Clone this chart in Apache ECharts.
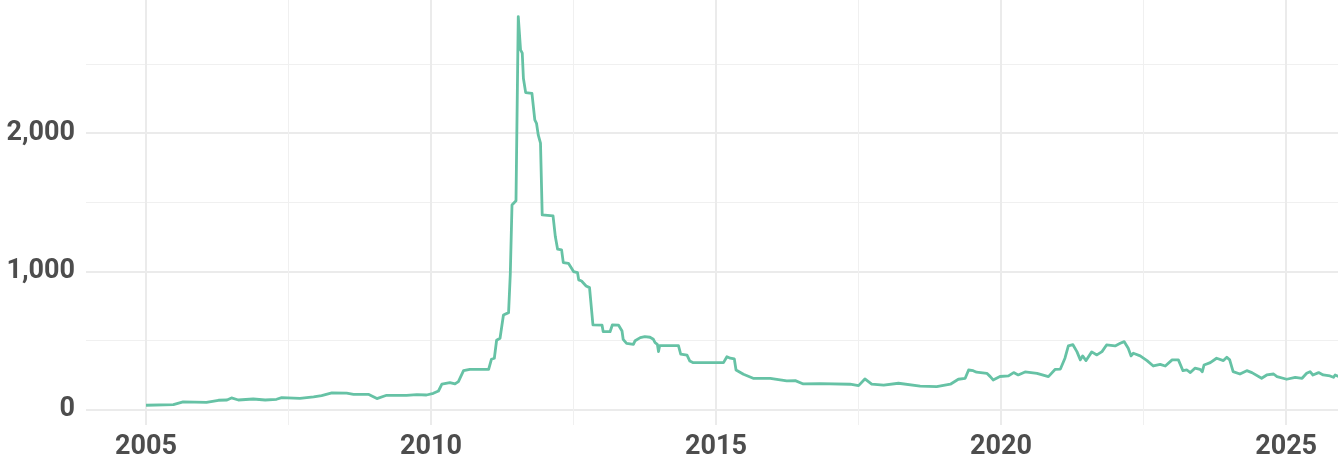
<!DOCTYPE html>
<html>
<head>
<meta charset="utf-8">
<script src="https://cdn.jsdelivr.net/npm/echarts@6/dist/echarts.min.js"></script>
<style>
  html, body { margin: 0; padding: 0; background: #ffffff; }
  #chart { width: 1338px; height: 455px; }
</style>
</head>
<body>
<div id="chart"></div>
<script>
// ---- data (decimal year, value) ----
const years = [
  2005.00, 2005.48, 2005.65, 2006.06, 2006.27, 2006.42, 2006.50, 2006.62, 2006.88, 2007.09,
  2007.29, 2007.38, 2007.70, 2007.94, 2008.08, 2008.26, 2008.52, 2008.64, 2008.90, 2009.05,
  2009.22, 2009.57, 2009.75, 2009.92, 2010.04, 2010.13, 2010.19, 2010.33, 2010.42, 2010.48,
  2010.57, 2010.68, 2011.01, 2011.06, 2011.11, 2011.15, 2011.21, 2011.27, 2011.36, 2011.39,
  2011.40, 2011.42, 2011.49, 2011.53, 2011.56, 2011.57, 2011.60, 2011.62, 2011.66, 2011.77,
  2011.82, 2011.85, 2011.88, 2011.92, 2011.95, 2012.14, 2012.18, 2012.22, 2012.29, 2012.32,
  2012.41, 2012.50, 2012.57, 2012.59, 2012.64, 2012.72, 2012.78, 2012.84, 2013.00, 2013.02,
  2013.14, 2013.18, 2013.29, 2013.35, 2013.37, 2013.43, 2013.55, 2013.58, 2013.67, 2013.75,
  2013.84, 2013.90, 2013.93, 2013.97, 2013.99, 2014.01, 2014.34, 2014.38, 2014.49, 2014.54,
  2014.60, 2015.13, 2015.19, 2015.25, 2015.32, 2015.35, 2015.48, 2015.65, 2015.95, 2016.24,
  2016.39, 2016.53, 2016.82, 2017.35, 2017.50, 2017.61, 2017.73, 2017.94, 2018.20, 2018.58,
  2018.87, 2019.11, 2019.25, 2019.37, 2019.43, 2019.51, 2019.57, 2019.75, 2019.81, 2019.86,
  2019.98, 2020.13, 2020.22, 2020.30, 2020.42, 2020.63, 2020.83, 2020.95, 2021.04, 2021.12,
  2021.18, 2021.26, 2021.33, 2021.39, 2021.43, 2021.49, 2021.59, 2021.68, 2021.77, 2021.85,
  2022.00, 2022.09, 2022.16, 2022.23, 2022.28, 2022.32, 2022.44, 2022.56, 2022.67, 2022.79,
  2022.88, 2023.00, 2023.11, 2023.19, 2023.26, 2023.32, 2023.40, 2023.49, 2023.53, 2023.56,
  2023.67, 2023.78, 2023.90, 2023.96, 2024.01, 2024.07, 2024.19, 2024.31, 2024.40, 2024.57,
  2024.66, 2024.78, 2024.84, 2025.01, 2025.16, 2025.28, 2025.36, 2025.42, 2025.47, 2025.57,
  2025.65, 2025.77, 2025.83, 2025.86, 2025.93
];
const values = [
  32, 36, 56, 53, 68, 70, 85, 70, 77, 70,
  75, 87, 82, 92, 101, 121, 119, 111, 111, 80,
  104, 104, 109, 106, 118, 135, 184, 195, 186, 203,
  282, 292, 292, 365, 372, 502, 517, 685, 702, 980,
  987, 1481, 1512, 2844, 2844, 2603, 2579, 2398, 2294, 2289,
  2096, 2072, 1988, 1928, 1409, 1402, 1252, 1161, 1156, 1064,
  1059, 999, 991, 939, 931, 895, 883, 613, 611, 564,
  564, 613, 611, 569, 509, 480, 473, 499, 521, 528,
  524, 509, 485, 473, 420, 463, 463, 401, 394, 352,
  340, 340, 383, 372, 367, 287, 256, 227, 227, 208,
  210, 186, 188, 184, 174, 222, 184, 177, 191, 171,
  166, 184, 220, 227, 287, 282, 271, 263, 239, 215,
  240, 244, 268, 251, 273, 263, 239, 292, 294, 372,
  461, 470, 420, 360, 389, 355, 418, 396, 420, 468,
  461, 480, 492, 444, 389, 408, 389, 355, 316, 328,
  316, 360, 360, 282, 287, 268, 300, 292, 275, 323,
  340, 372, 355, 379, 360, 275, 258, 282, 268, 227,
  251, 258, 239, 220, 234, 227, 263, 275, 251, 268,
  251, 244, 234, 251, 239
];

// ---- tick labels ----
const xMajorTicks = [2005, 2010, 2015, 2020, 2025];
const xMinorTicks = [2007.5, 2012.5, 2017.5, 2022.5];
const yMajorTicks = [0, 1000, 2000];
const yMinorTicks = [500, 1500, 2500];

const seriesData = years.map((y, i) => [y, values[i]]);

const labelFont = {
  fontFamily: 'Roboto',
  fontWeight: 'bold',
  fontSize: 27,
  color: '#4d4d4d'
};

const X_MIN = 2003.947, X_MAX = 2025.91;
const Y_MIN = -111, Y_MAX = 2964;

const chart = echarts.init(document.getElementById('chart'), null, { renderer: 'canvas' });
chart.setOption({
  animation: false,
  backgroundColor: '#ffffff',
  grid: { left: 86, right: 0, top: 0, bottom: 30, containLabel: false, outerBoundsMode: 'none' },
  xAxis: [
    {
      type: 'value', min: X_MIN, max: X_MAX,
      axisLine: { show: false },
      axisTick: { show: false, customValues: xMajorTicks },
      axisLabel: Object.assign({ customValues: xMajorTicks, margin: 9, hideOverlap: false, formatter: v => String(Math.round(v)) }, labelFont),
      splitLine: { show: true, lineStyle: { color: '#ebebeb', width: 2 } }
    },
    {
      type: 'value', min: X_MIN, max: X_MAX, position: 'bottom',
      axisLine: { show: false },
      axisTick: { show: false, customValues: xMinorTicks },
      axisLabel: { show: false, customValues: xMinorTicks },
      splitLine: { show: true, lineStyle: { color: '#f0f0f0', width: 1 } }
    }
  ],
  yAxis: [
    {
      type: 'value', min: Y_MIN, max: Y_MAX,
      axisLine: { show: false },
      axisTick: { show: false, customValues: yMajorTicks },
      axisLabel: Object.assign({ customValues: yMajorTicks, margin: 11, formatter: v => Math.round(v).toLocaleString('en-US') }, labelFont),
      splitLine: { show: true, lineStyle: { color: '#ebebeb', width: 2 } }
    },
    {
      type: 'value', min: Y_MIN, max: Y_MAX, position: 'left',
      axisLine: { show: false },
      axisTick: { show: false, customValues: yMinorTicks },
      axisLabel: { show: false, customValues: yMinorTicks },
      splitLine: { show: true, lineStyle: { color: '#f0f0f0', width: 1 } }
    }
  ],
  series: [
    {
      type: 'line',
      xAxisIndex: 0,
      yAxisIndex: 0,
      data: seriesData,
      showSymbol: false,
      symbol: 'none',
      lineStyle: { color: '#66c2a5', width: 2.8, join: 'round' },
      z: 5
    }
  ]
});
</script>
</body>
</html>
